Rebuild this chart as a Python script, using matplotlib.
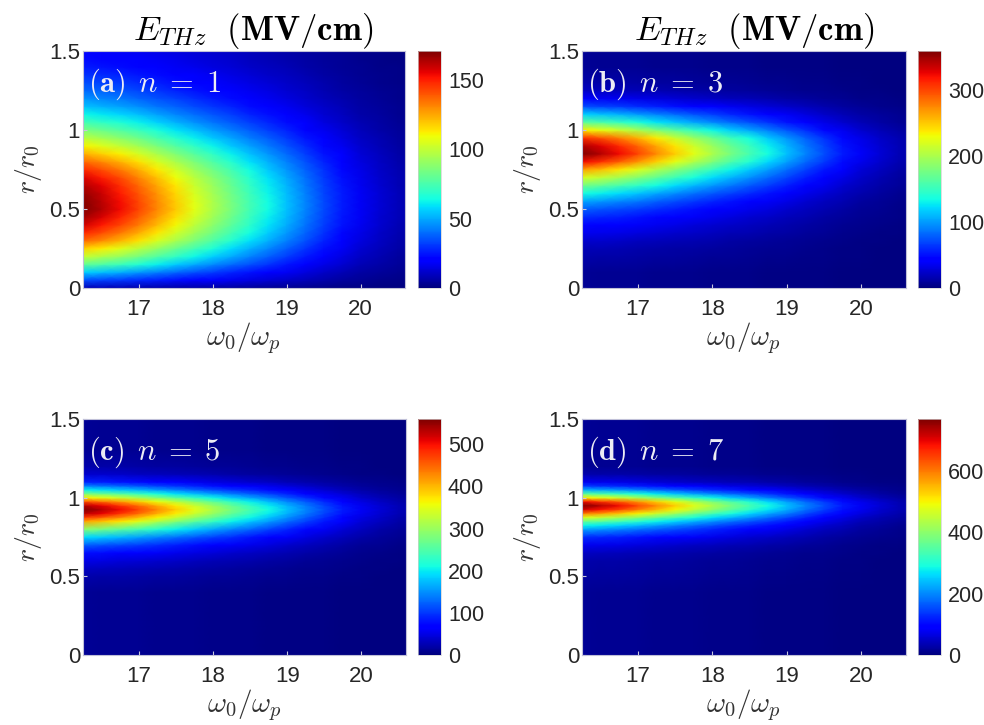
import numpy as np
import matplotlib
matplotlib.use("Agg")
import matplotlib.pyplot as plt

plt.rcParams['font.family'] = ['Liberation Sans', 'DejaVu Sans']
plt.rcParams['mathtext.fontset'] = 'cm'

# ---- data ----
# frequency samples (omega_0 / omega_p)
omega = [16.25, 16.5, 16.75, 17.0, 17.25, 17.5, 17.75, 18.0, 18.25, 18.5,
         18.75, 19.0, 19.25, 19.5, 19.75, 20.0, 20.25, 20.5, 20.75]

# peak-row field amplitude along omega (MV/cm) for each panel
amp_a = [171, 163, 154, 143, 131, 119, 107, 96, 85, 74, 64, 54, 44, 34, 26, 18, 13, 9, 6]
amp_b = [360, 344, 324, 301, 275, 250, 225, 202, 178, 157, 135, 113, 92, 72, 54, 38, 27, 18, 13]
amp_c = [560, 535, 504, 468, 428, 389, 350, 314, 277, 244, 210, 176, 143, 112, 84, 59, 42, 28, 20]
amp_d = [770, 735, 693, 643, 589, 535, 481, 431, 381, 335, 289, 243, 196, 154, 116, 81, 58, 39, 27]

# radial profiles (relative to the peak) for each panel
r_a = [0.0, 0.05, 0.1, 0.15, 0.2, 0.25, 0.3, 0.35, 0.4, 0.45, 0.5, 0.55, 0.6, 0.65, 0.7,
       0.75, 0.8, 0.85, 0.9, 0.95, 1.0, 1.05, 1.1, 1.15, 1.2, 1.25, 1.3, 1.35, 1.4, 1.45, 1.5]
p_a = [0.05, 0.20, 0.33, 0.47, 0.59, 0.69, 0.80, 0.87, 0.93, 0.97, 1.0, 0.995, 0.98, 0.955, 0.92,
       0.865, 0.80, 0.725, 0.65, 0.575, 0.50, 0.43, 0.37, 0.315, 0.27, 0.23, 0.20, 0.175, 0.15, 0.135, 0.12]

r_b = [0.0, 0.1, 0.2, 0.25, 0.3, 0.35, 0.4, 0.45, 0.5, 0.55, 0.6, 0.65, 0.7, 0.75, 0.8,
       0.85, 0.9, 0.95, 1.0, 1.05, 1.1, 1.15, 1.2, 1.25, 1.3, 1.4, 1.5]
p_b = [0.02, 0.02, 0.04, 0.05, 0.07, 0.10, 0.13, 0.17, 0.22, 0.29, 0.38, 0.49, 0.61, 0.74, 0.90,
       1.0, 0.96, 0.86, 0.66, 0.46, 0.33, 0.20, 0.11, 0.06, 0.04, 0.02, 0.02]

r_c = [0.0, 0.2, 0.4, 0.5, 0.55, 0.6, 0.65, 0.7, 0.75, 0.8, 0.85, 0.875, 0.9, 0.925, 0.95,
       0.975, 1.0, 1.025, 1.05, 1.075, 1.1, 1.15, 1.2, 1.3, 1.5]
p_c = [0.02, 0.02, 0.02, 0.04, 0.06, 0.09, 0.14, 0.22, 0.34, 0.52, 0.74, 0.85, 0.95, 1.0, 0.95,
       0.83, 0.66, 0.50, 0.36, 0.25, 0.16, 0.07, 0.04, 0.02, 0.02]

r_d = [0.0, 0.4, 0.6, 0.65, 0.7, 0.75, 0.8, 0.825, 0.85, 0.875, 0.9, 0.925, 0.95, 0.975,
       1.0, 1.025, 1.05, 1.075, 1.1, 1.15, 1.2, 1.5]
p_d = [0.02, 0.02, 0.04, 0.06, 0.10, 0.17, 0.29, 0.37, 0.48, 0.62, 0.78, 0.93, 1.0, 0.90,
       0.66, 0.46, 0.30, 0.18, 0.10, 0.04, 0.02, 0.02]

labels = [r"$\mathbf{(a)}\;\,n\;=\;1$", r"$\mathbf{(b)}\;\,n\;=\;3$",
          r"$\mathbf{(c)}\;\,n\;=\;5$", r"$\mathbf{(d)}\;\,n\;=\;7$"]
vmaxs = [171, 360, 560, 770]
cbar_ticks = [[0, 50, 100, 150], [0, 100, 200, 300], [0, 100, 200, 300, 400, 500], [0, 200, 400, 600]]
x_ticks = [17, 18, 19, 20]
y_ticks = [0, 0.5, 1, 1.5]
y_ticklabels = ["0", "0.5", "1", "1.5"]

panels = [(r_a, p_a, amp_a), (r_b, p_b, amp_b), (r_c, p_c, amp_c), (r_d, p_d, amp_d)]

# ---- layout (figure fractions) ----
W, H = 984, 725
fig = plt.figure(figsize=(W / 100, H / 100), dpi=100)

ax_px = [(83, 51, 405, 288), (582, 51, 906, 288), (83, 419, 406, 655), (582, 419, 906, 655)]
cb_px = [(418, 51, 441, 288), (918, 51, 941, 288), (418, 419, 441, 655), (918, 419, 941, 655)]

def rect(p):
    x0, y0, x1, y1 = p
    return [x0 / W, 1 - y1 / H, (x1 - x0) / W, (y1 - y0) / H]

tick_color = '#262626'
for i, (rr, pp, aa) in enumerate(panels):
    ax = fig.add_axes(rect(ax_px[i]))
    cax = fig.add_axes(rect(cb_px[i]))
    Z = np.outer(np.array(pp), np.array(aa))
    Wg, Rg = np.meshgrid(np.array(omega), np.array(rr))
    m = ax.pcolormesh(Wg, Rg, Z, shading='gouraud', cmap='jet', vmin=0, vmax=vmaxs[i],
                      rasterized=True)
    ax.set_xlim(16.25, 20.6)
    ax.set_ylim(0, 1.5)
    ax.set_xticks(x_ticks)
    ax.set_yticks(y_ticks)
    ax.set_yticklabels(y_ticklabels)
    ax.tick_params(direction='in', length=3, color='#c8c8dc', labelsize=16,
                   labelcolor=tick_color, pad=2)
    ax.tick_params(axis='x', pad=8)
    for s in ax.spines.values():
        s.set_color('#c0c0d8')
        s.set_linewidth(0.8)
    ax.set_xlabel(r"$\omega_0/\omega_p$", fontsize=21, color='#333333', labelpad=0)
    ax.set_ylabel(r"$r/r_0$", fontsize=20, color='#333333', labelpad=4)
    ax.text(0.015, 0.935, labels[i], transform=ax.transAxes, ha='left', va='top',
            fontsize=22, color='#ececf4')
    if i < 2:
        ax.set_title(r"$E_{THz}\ \ \mathbf{(MV/cm)}$", fontsize=25, pad=6, x=0.53)

    cb = fig.colorbar(m, cax=cax, ticks=cbar_ticks[i])
    cb.outline.set_linewidth(0.5)
    cb.outline.set_edgecolor('#d0d0d0')
    cax.tick_params(labelsize=15.5, length=0, pad=5, labelcolor=tick_color)

fig.savefig("out.png", dpi=100)
